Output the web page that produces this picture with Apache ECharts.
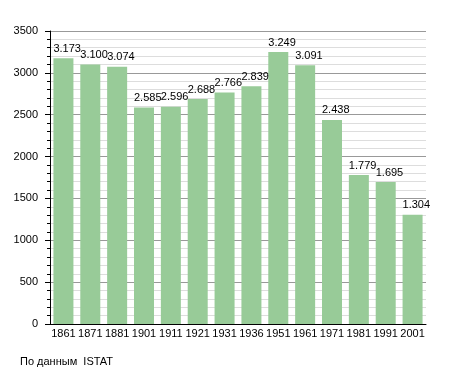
<!DOCTYPE html>
<html><head><meta charset="utf-8">
<script src="https://cdn.jsdelivr.net/npm/echarts@6/dist/echarts.min.js"></script>
<style>html,body{margin:0;padding:0;background:#fff}#c{width:455px;height:373px}</style>
</head><body><div id="c"></div>
<script>
const years = ['1861','1871','1881','1901','1911','1921','1931','1936','1951','1961','1971','1981','1991','2001'];
const population = [3173,3100,3074,2585,2596,2688,2766,2839,3249,3091,2438,1779,1695,1304];
const yTicks = [0,500,1000,1500,2000,2500,3000,3500];
const sourceNote = 'По данным  ISTAT';

const font = 'Liberation Sans, Arial, sans-serif';
const chart = echarts.init(document.getElementById('c'), null, {renderer:'canvas'});
chart.setOption({
  animation:false,
  grid:{left:50,right:29,top:31,bottom:49,containLabel:false},
  graphic:[{type:'text',left:20,top:356,style:{text:sourceNote,font:'11px '+font,fill:'#000'}}],
  xAxis:{type:'category',data:years,
    axisLine:{lineStyle:{color:'#000',width:1}},
    axisTick:{show:false},
    axisLabel:{color:'#000',fontFamily:font,fontSize:11,margin:4,interval:0}},
  yAxis:{type:'value',min:yTicks[0],max:yTicks[yTicks.length-1],interval:500,
    axisLine:{show:true,lineStyle:{color:'#000'}},
    axisTick:{show:true,inside:false,length:5,lineStyle:{color:'#000'}},
    minorTick:{show:true,splitNumber:5,length:3,lineStyle:{color:'#000'}},
    splitLine:{show:true,lineStyle:{color:'#999',width:1}},
    minorSplitLine:{show:true,lineStyle:{color:'#ddd',width:1}},
    axisLabel:{color:'#000',fontFamily:font,fontSize:11,margin:12,formatter:v=>String(v)}},
  series:[{type:'bar',data:population,barWidth:20,
    itemStyle:{color:'#98cb98'},
    label:{show:true,position:[0,-15],color:'#000',fontFamily:font,fontSize:11,
      formatter:p=>{const v=p.value;return v>=1000?Math.floor(v/1000)+'.'+String(v%1000).padStart(3,'0'):String(v);}}}]
});
</script></body></html>
